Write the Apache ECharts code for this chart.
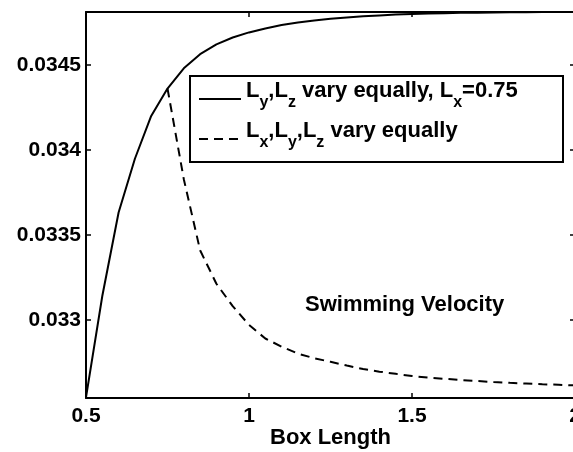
<!DOCTYPE html>
<html>
<head>
<meta charset="utf-8">
<script src="https://cdn.jsdelivr.net/npm/echarts@6/dist/echarts.min.js"></script>
<style>
html,body{margin:0;padding:0;background:#fff;}
#chart{width:573px;height:452px;}
</style>
</head>
<body>
<div id="chart"></div>
<script>
// Box length values (x)
var boxLength = [0.50,0.55,0.60,0.65,0.70,0.75,0.80,0.85,0.90,0.95,1.00,1.05,1.10,1.15,1.20,1.25,1.30,1.35,1.40,1.45,1.50,1.55,1.60,1.65,1.70,1.75,1.80,1.85,1.90,1.95,2.00];
// Ly,Lz vary equally, Lx=0.75
var velYZ = [0.032544,0.033140,0.033631,0.033947,0.034199,0.034360,0.034479,0.034562,0.034620,0.034660,0.034690,0.034713,0.034733,0.034748,0.034760,0.034770,0.034778,0.034785,0.034790,0.034795,0.034798,0.034801,0.034803,0.034805,0.034806,0.034807,0.034808,0.034809,0.034810,0.034811,0.034812];
// Box length values for Lx,Ly,Lz vary equally
var boxLengthXYZ = [0.75,0.80,0.85,0.90,0.95,1.00,1.05,1.10,1.15,1.20,1.25,1.30,1.35,1.40,1.45,1.50,1.55,1.60,1.65,1.70,1.75,1.80,1.85,1.90,1.95,2.00];
var velXYZ = [0.034360,0.033827,0.033409,0.033212,0.033080,0.032970,0.032890,0.032842,0.032801,0.032774,0.032753,0.032731,0.032710,0.032695,0.032682,0.032669,0.032660,0.032653,0.032646,0.032640,0.032634,0.032629,0.032625,0.032621,0.032618,0.032614];

var xTicks = [0.5, 1, 1.5, 2];
var yTickLabels = ['0.033', '0.0335', '0.034', '0.0345'];
var seriesNames = ['A', 'B'];
var annotation = 'Swimming Velocity';
var xName = 'Box Length';

function pairs(xs, ys) { return xs.map(function (x, i) { return [x, ys[i]]; }); }

var FONT = 'Liberation Sans';
var lab = { fontFamily: FONT, fontWeight: 'bold', fontSize: 21, color: '#000' };
var axisLine = { show: true, lineStyle: { color: '#000', width: 2 } };
var tick = { show: true, inside: true, length: 5, lineStyle: { color: '#000', width: 1.5 } };

var chart = echarts.init(document.getElementById('chart'), null, { renderer: 'canvas' });
var option = {
  backgroundColor: '#fff',
  animation: false,
  grid: { left: 86, right: -2, top: 12, bottom: 54, containLabel: false, outerBoundsMode: 'none' },
  xAxis: [
    { type: 'value', position: 'bottom', min: xTicks[0], max: xTicks[xTicks.length - 1], interval: 0.5,
      axisLine: axisLine, axisTick: tick, splitLine: { show: false },
      axisLabel: Object.assign({ margin: 8, hideOverlap: false }, lab),
      name: xName, nameLocation: 'middle', nameGap: 29, nameMoveOverlap: false,
      nameTextStyle: { fontFamily: FONT, fontWeight: 'bold', fontSize: 22, color: '#000' } },
    { type: 'value', position: 'top', min: xTicks[0], max: xTicks[xTicks.length - 1], interval: 0.5,
      axisLine: axisLine, axisTick: tick, splitLine: { show: false }, axisLabel: { show: false } }
  ],
  yAxis: [
    { type: 'value', position: 'left', min: 0.03254, max: 0.03481, splitNumber: 5, scale: true,
      axisLine: axisLine, axisTick: tick, splitLine: { show: false },
      axisLabel: Object.assign({ margin: 5, showMinLabel: false, showMaxLabel: false,
        formatter: function (v) {
          var s = String(+v.toFixed(5));
          return yTickLabels.indexOf(s) >= 0 ? s : '';
        } }, lab) },
    { type: 'value', position: 'right', min: 0.03254, max: 0.03481, splitNumber: 5, scale: true,
      axisLine: axisLine, axisTick: tick, splitLine: { show: false }, axisLabel: { show: false } }
  ],
  legend: {
    orient: 'vertical', left: 198, top: 80, padding: 0, itemGap: 9,
    itemWidth: 42, itemHeight: 14, itemStyle: { opacity: 0 },
    data: seriesNames,
    formatter: function (name) {
      if (name === 'A') return '{m|L}{s|y}{m|,L}{s|z}{m| vary equally, L}{s|x}{m|=0.75}';
      return '{m|L}{s|x}{m|,L}{s|y}{m|,L}{s|z}{m| vary equally}';
    },
    textStyle: {
      padding: [0, 0, 14, 0],
      rich: {
        m: { fontFamily: FONT, fontWeight: 'bold', fontSize: 22, color: '#000', lineHeight: 24, verticalAlign: 'top' },
        s: { fontFamily: FONT, fontWeight: 'bold', fontSize: 16, color: '#000', lineHeight: 17, verticalAlign: 'top', padding: [15, 0, 0, 0] }
      }
    }
  },
  graphic: [
    { type: 'rect', shape: { x: 190, y: 76, width: 373, height: 86 }, z: 1,
      style: { fill: 'none', stroke: '#000', lineWidth: 2 } },
    { type: 'text', x: 305, y: 305, z: 5,
      style: { text: annotation, fontFamily: FONT, fontWeight: 'bold', fontSize: 22, fill: '#000', textAlign: 'left', textVerticalAlign: 'middle' } }
  ],
  series: [
    { name: 'A', type: 'line', xAxisIndex: 0, yAxisIndex: 0, data: pairs(boxLength, velYZ),
      symbol: 'none', lineStyle: { color: '#000', width: 2, type: 'solid' }, itemStyle: { color: '#000' } },
    { name: 'B', type: 'line', xAxisIndex: 0, yAxisIndex: 0, data: pairs(boxLengthXYZ, velXYZ),
      symbol: 'none', lineStyle: { color: '#000', width: 2, type: [9, 6] }, itemStyle: { color: '#000' } }
  ]
};
chart.setOption(option);
</script>
</body>
</html>
